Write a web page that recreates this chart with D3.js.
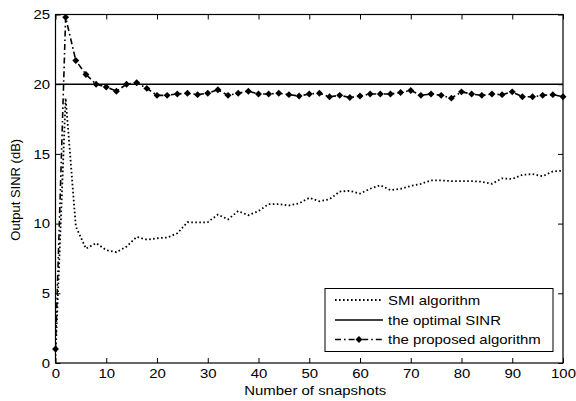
<!DOCTYPE html>
<html>
<head>
<meta charset="utf-8">
<script src="https://cdn.jsdelivr.net/npm/d3@7"></script>
<style>
body { margin: 0; background: #fff; }
text { font-family: Arial, "Liberation Sans", sans-serif; fill: #000; }
</style>
</head>
<body>
<script>
var width = 576;
var height = 401;

// data
var snapshots = [0, 2, 4, 6, 8, 10, 12, 14, 16, 18, 20, 22, 24, 26, 28, 30, 32, 34, 36, 38, 40,
    42, 44, 46, 48, 50, 52, 54, 56, 58, 60, 62, 64, 66, 68, 70, 72, 74, 76, 78, 80,
    82, 84, 86, 88, 90, 92, 94, 96, 98, 100];
var smi = [0.5, 19, 9.8, 8.2, 8.6, 8.1, 7.95, 8.35, 9.05, 8.85, 8.95, 9.0, 9.3, 10.1, 10.08, 10.1, 10.65, 10.3, 10.9, 10.6, 10.9,
    11.4, 11.4, 11.3, 11.45, 11.85, 11.6, 11.75, 12.3, 12.35, 12.15, 12.5, 12.75, 12.4, 12.5, 12.7, 12.85, 13.1, 13.1, 13.05, 13.05,
    13.05, 13.0, 12.85, 13.25, 13.2, 13.5, 13.55, 13.4, 13.75, 13.8];
var proposed = [1, 24.8, 21.7, 20.7, 20.0, 19.8, 19.5, 20.0, 20.1, 19.7, 19.2, 19.2, 19.3, 19.35, 19.25, 19.35, 19.6, 19.2, 19.35, 19.5, 19.3,
    19.3, 19.35, 19.25, 19.15, 19.3, 19.35, 19.1, 19.2, 19.05, 19.15, 19.3, 19.3, 19.3, 19.4, 19.55, 19.2, 19.3, 19.2, 19.0, 19.45,
    19.3, 19.2, 19.3, 19.25, 19.45, 19.1, 19.1, 19.2, 19.25, 19.1];
var optimalX = [0, 100];
var optimalY = [20, 20];
var xTicks = [0, 10, 20, 30, 40, 50, 60, 70, 80, 90, 100];
var yTicks = [0, 5, 10, 15, 20, 25];
var legendLabels = ["SMI algorithm", "the optimal SINR", "the proposed algorithm"];

var plotLeft = 55.5, plotRight = 563, plotTop = 14.5, plotBottom = 363;
var sx = 1.15; // the picture is a bit wider than tall

var svg = d3.select("body").append("svg")
    .attr("width", width)
    .attr("height", height);

var x = d3.scaleLinear().domain([0, 100]).range([plotLeft, plotRight]);
var y = d3.scaleLinear().domain([0, 25]).range([plotBottom, plotTop]);

svg.append("clipPath").attr("id", "clip")
    .append("rect")
    .attr("x", plotLeft).attr("y", plotTop - 2)
    .attr("width", plotRight - plotLeft).attr("height", plotBottom - plotTop + 2);

// axes, ticks pointing inward
var bottomAxis = svg.append("g")
    .attr("transform", "translate(0," + plotBottom + ")")
    .call(d3.axisBottom(x).tickValues(xTicks).tickSizeInner(-5).tickSizeOuter(0).tickPadding(6));
var leftAxis = svg.append("g")
    .attr("transform", "translate(" + plotLeft + ",0)")
    .call(d3.axisLeft(y).tickValues(yTicks).tickSizeInner(-5).tickSizeOuter(0).tickPadding(5.5 / sx));
svg.append("g")
    .attr("transform", "translate(0," + plotTop + ")")
    .call(d3.axisTop(x).tickValues(xTicks).tickSizeInner(-5).tickSizeOuter(0).tickFormat(""));
svg.append("g")
    .attr("transform", "translate(" + plotRight + ",0)")
    .call(d3.axisRight(y).tickValues(yTicks).tickSizeInner(-5).tickSizeOuter(0).tickFormat(""));

svg.selectAll(".domain").remove();
svg.selectAll(".tick line").attr("stroke", "#000").attr("stroke-width", 1);
bottomAxis.selectAll("text").attr("font-size", 13).attr("transform", "scale(" + sx + ",1)")
    .style("font-family", "Arial, 'Liberation Sans', sans-serif");
leftAxis.selectAll("text").attr("font-size", 13).attr("transform", "scale(" + sx + ",1)")
    .style("font-family", "Arial, 'Liberation Sans', sans-serif");

svg.append("rect")
    .attr("x", plotLeft).attr("y", plotTop)
    .attr("width", plotRight - plotLeft).attr("height", plotBottom - plotTop)
    .attr("fill", "none").attr("stroke", "#000").attr("stroke-width", 1.2);

var plot = svg.append("g").attr("clip-path", "url(#clip)");

var line = d3.line()
    .x(function(d) { return x(d[0]); })
    .y(function(d) { return y(d[1]); });

plot.append("path")
    .datum(d3.zip(optimalX, optimalY))
    .attr("d", line)
    .attr("fill", "none").attr("stroke", "#000").attr("stroke-width", 1.6);

plot.append("path")
    .datum(d3.zip(snapshots, smi))
    .attr("d", line)
    .attr("fill", "none").attr("stroke", "#000").attr("stroke-width", 1.8)
    .attr("stroke-dasharray", "1.6,2.4");

plot.append("path")
    .datum(d3.zip(snapshots, proposed))
    .attr("d", line)
    .attr("fill", "none").attr("stroke", "#000").attr("stroke-width", 1.6)
    .attr("stroke-dasharray", "6,3,1.6,3");

// matlab style filled diamond: a square turned 45 degrees
var marker = d3.symbol().type(d3.symbolSquare).size(24);

svg.append("g").selectAll("path")
    .data(d3.zip(snapshots, proposed))
    .enter().append("path")
        .attr("d", marker)
        .attr("transform", function(d) { return "translate(" + x(d[0]) + "," + y(d[1]) + ") rotate(45)"; })
        .attr("fill", "#000");

// axis titles
svg.append("text")
    .attr("transform", "translate(" + ((plotLeft + plotRight) / 2 + 6) + ",395) scale(" + sx + ",1)")
    .attr("text-anchor", "middle")
    .attr("font-size", 13)
    .text("Number of snapshots");

svg.append("text")
    .attr("transform", "translate(20," + ((plotTop + plotBottom) / 2 + 1) + ") rotate(-90)")
    .attr("text-anchor", "middle")
    .attr("font-size", 13)
    .text("Output SINR (dB)");

// legend
var legend = svg.append("g");
legend.append("rect")
    .attr("x", 325).attr("y", 288.5)
    .attr("width", 228).attr("height", 63)
    .attr("fill", "#fff").attr("stroke", "#000").attr("stroke-width", 1);

var legendY = [300, 320, 339.5];
var legendDash = ["1.6,2.4", null, "6,3,1.6,3"];

legend.selectAll("line")
    .data(legendLabels)
    .enter().append("line")
        .attr("x1", 335).attr("x2", 383)
        .attr("y1", function(d, i) { return legendY[i]; })
        .attr("y2", function(d, i) { return legendY[i]; })
        .attr("stroke", "#000")
        .attr("stroke-width", function(d, i) { return i === 0 ? 1.8 : 1.6; })
        .attr("stroke-dasharray", function(d, i) { return legendDash[i]; });

legend.append("path")
    .attr("d", marker)
    .attr("transform", "translate(359," + legendY[2] + ") rotate(45)")
    .attr("fill", "#000");

legend.selectAll("text")
    .data(legendLabels)
    .enter().append("text")
        .attr("transform", function(d, i) { return "translate(388," + legendY[i] + ") scale(" + sx + ",1)"; })
        .attr("dy", "0.35em")
        .attr("font-size", 13)
        .text(function(d) { return d; });
</script>
</body>
</html>
